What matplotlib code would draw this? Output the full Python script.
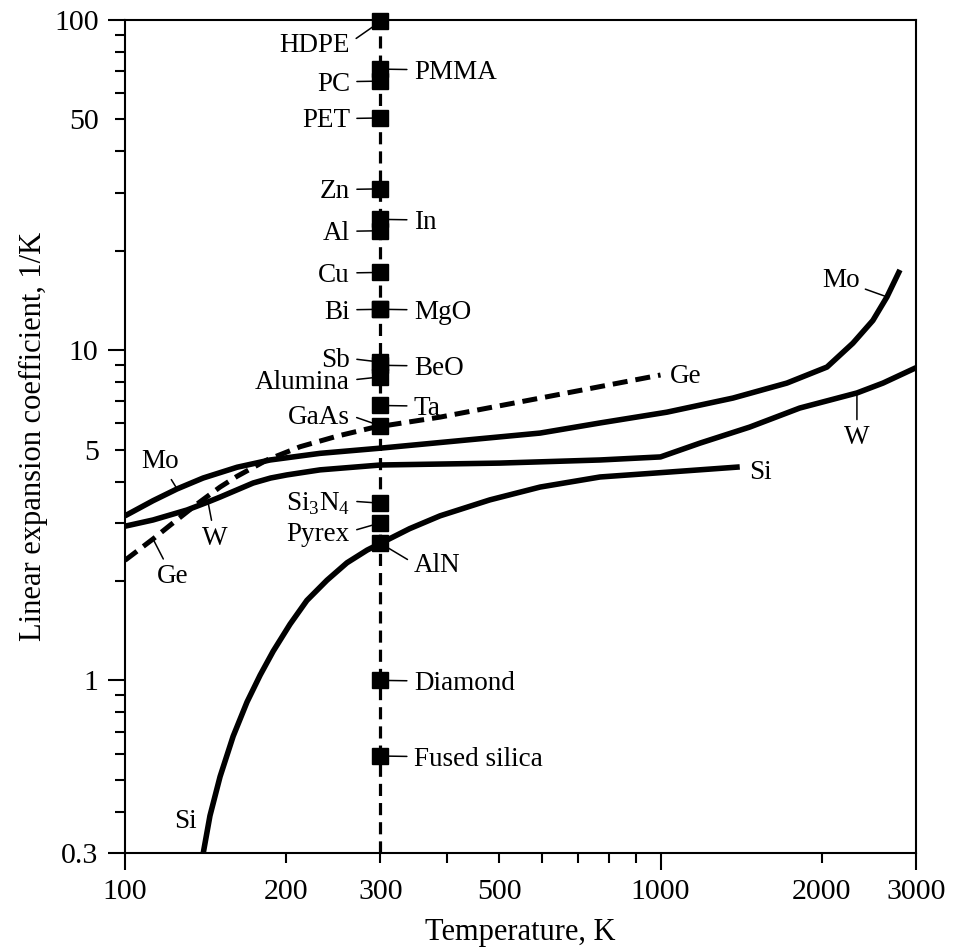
import numpy as np
import matplotlib
matplotlib.use("Agg")
import matplotlib.pyplot as plt
from matplotlib.ticker import FixedLocator, FuncFormatter

plt.rcParams['font.family'] = 'Liberation Serif'
plt.rcParams['mathtext.fontset'] = 'custom'
plt.rcParams['mathtext.rm'] = 'Liberation Serif'

# curves (temperature K, linear expansion coefficient 1e-6/K)
t_mo = [100, 112.8, 125.1, 139.9, 161.9, 186.6, 231.3, 300, 596, 771, 1028, 1365, 1722, 2046, 2287, 2492, 2648, 2800]
a_mo = [3.15, 3.50, 3.80, 4.10, 4.42, 4.65, 4.87, 5.05, 5.61, 6.02, 6.49, 7.16, 7.95, 8.89, 10.5, 12.3, 14.5, 17.5]

t_w = [100, 112.8, 130.5, 142.9, 150.5, 173.5, 187, 200.6, 231.3, 300, 501, 771, 1000, 1185, 1468, 1820, 2327, 2603, 3000]
a_w = [2.93, 3.06, 3.28, 3.47, 3.59, 3.96, 4.10, 4.19, 4.34, 4.49, 4.55, 4.65, 4.75, 5.23, 5.85, 6.68, 7.42, 7.95, 8.85]

t_ge = [100, 112.8, 121.4, 136.3, 150.5, 161.9, 184.1, 212.3, 250, 290.6, 387.6, 596, 1000]
a_ge = [2.31, 2.68, 2.95, 3.42, 3.85, 4.15, 4.65, 5.10, 5.50, 5.83, 6.27, 7.16, 8.41]

t_si = [140, 144.1, 150.5, 159.2, 169.0, 178.8, 189.1, 203.3, 218.6, 238.3, 259.7, 283.2, 300, 340, 387.6, 480, 596, 771, 1028, 1406]
a_si = [0.30, 0.389, 0.511, 0.677, 0.860, 1.037, 1.225, 1.479, 1.746, 2.01, 2.27, 2.48, 2.60, 2.88, 3.15, 3.52, 3.85, 4.13, 4.27, 4.43]

# room temperature values
t_room = 300
si3n4 = r'Si$_\mathregular{3}$N$_\mathregular{4}$'
left_names = ['HDPE', 'PC', 'PET', 'Zn', 'Al', 'Cu', 'Bi', 'Sb', 'Alumina', 'GaAs', si3n4, 'Pyrex']
left_vals = [99, 65.3, 50.5, 30.8, 23.0, 17.2, 13.3, 9.2, 8.3, 5.9, 3.44, 3.0]
right_names = ['PMMA', 'In', 'MgO', 'BeO', 'Ta', 'AlN', 'Diamond', 'Fused silica']
right_vals = [71, 24.9, 13.3, 9.0, 6.8, 2.6, 1.0, 0.59]

# vertical label shifts (points)
dy = {'HDPE': -15, 'GaAs': 8, si3n4: 2, 'Pyrex': -6, 'AlN': -14, 'Sb': 3, 'Alumina': -2}

fig = plt.figure(figsize=(9.55, 9.48), dpi=100)
ax = fig.add_axes([125/955, 95/948, 791/955, 833/948])
ax.set_xscale('log')
ax.set_yscale('log')

lw_curve = 4.0
ax.plot(t_mo, a_mo, color='k', lw=lw_curve, solid_capstyle='butt', solid_joinstyle='round')
ax.plot(t_w, a_w, color='k', lw=lw_curve, solid_capstyle='butt', solid_joinstyle='round')
ax.plot(t_si, a_si, color='k', lw=lw_curve, solid_capstyle='butt', solid_joinstyle='round')
ax.plot(t_ge, a_ge, color='k', lw=3.6, ls=(0, (3.0, 1.6)))
ax.axvline(t_room, color='k', lw=2.3, ls=(0, (3.8, 2.2)), zorder=1)

ax.plot([t_room] * len(left_vals), left_vals, 's', color='k', ms=11, zorder=5, clip_on=False)
ax.plot([t_room] * len(right_vals), right_vals, 's', color='k', ms=11, zorder=5, clip_on=False)

fs = 19.5
for name, v in zip(left_names, left_vals):
    ax.annotate(name, xy=(t_room, v), xytext=(-22, dy.get(name, 0)), textcoords='offset points',
                ha='right', va='center_baseline', fontsize=fs, annotation_clip=False,
                arrowprops=dict(arrowstyle='-', color='k', lw=1.1, shrinkA=3, shrinkB=0, relpos=(1, 0.6)))
for name, v in zip(right_names, right_vals):
    ax.annotate(name, xy=(t_room, v), xytext=(24, dy.get(name, 0)), textcoords='offset points',
                ha='left', va='center_baseline', fontsize=fs, annotation_clip=False,
                arrowprops=dict(arrowstyle='-', color='k', lw=1.1, shrinkA=3, shrinkB=0, relpos=(0, 0.6)))

# curve labels
lead2 = dict(arrowstyle='-', color='k', lw=1.1, shrinkA=2, shrinkB=0)
ax.annotate('Mo', xy=(t_mo[2], a_mo[2]), xytext=(-12, 21.6), textcoords='offset points',
            ha='center', va='center_baseline', fontsize=fs, arrowprops=lead2)
ax.annotate('W', xy=(t_w[3], a_w[3]), xytext=(5, -24), textcoords='offset points',
            ha='center', va='center_baseline', fontsize=fs, arrowprops=lead2)
ax.annotate('Ge', xy=(t_ge[1], a_ge[1]), xytext=(14, -25), textcoords='offset points',
            ha='center', va='center_baseline', fontsize=fs, arrowprops=lead2)
ax.annotate('Mo', xy=(t_mo[16], a_mo[16]), xytext=(-33, 14), textcoords='offset points',
            ha='center', va='center_baseline', fontsize=fs, arrowprops=lead2)
ax.annotate('W', xy=(t_w[16], a_w[16]), xytext=(0, -30), textcoords='offset points',
            ha='center', va='center_baseline', fontsize=fs, arrowprops=lead2)
ax.annotate('Ge', xy=(t_ge[-1], a_ge[-1]), xytext=(7, 1), textcoords='offset points',
            ha='left', va='center_baseline', fontsize=fs)
ax.annotate('Si', xy=(t_si[-1], a_si[-1]), xytext=(7, -2), textcoords='offset points',
            ha='left', va='center_baseline', fontsize=fs)
ax.annotate('Si', xy=(t_si[0], a_si[0]), xytext=(-13, 25), textcoords='offset points',
            ha='center', va='center_baseline', fontsize=fs)

# axes
ax.set_xlim(100, 3000)
ax.set_ylim(0.3, 100)
x_labeled = [100, 200, 300, 500, 1000, 2000, 3000]
y_labeled = [0.3, 1, 5, 10, 50, 100]
ax.xaxis.set_major_locator(FixedLocator([100, 1000, 3000]))
ax.xaxis.set_minor_locator(FixedLocator([200, 300, 400, 500, 600, 700, 800, 900, 2000]))
ax.yaxis.set_major_locator(FixedLocator([0.3, 1, 10, 100]))
ax.yaxis.set_minor_locator(FixedLocator([0.4, 0.5, 0.6, 0.7, 0.8, 0.9, 2, 3, 4, 5, 6, 7, 8, 9,
                                         20, 30, 40, 50, 60, 70, 80, 90]))
fmt_x = FuncFormatter(lambda v, p: f'{v:g}' if any(abs(v - l) < 1e-6 for l in x_labeled) else '')
fmt_y = FuncFormatter(lambda v, p: f'{v:g}' if any(abs(v - l) < 1e-6 for l in y_labeled) else '')
ax.xaxis.set_major_formatter(fmt_x)
ax.xaxis.set_minor_formatter(fmt_x)
ax.yaxis.set_major_formatter(fmt_y)
ax.yaxis.set_minor_formatter(fmt_y)
ax.tick_params(which='major', length=12, width=1.5, pad=7, labelsize=21.5, direction='out')
ax.tick_params(which='minor', length=7, width=1.5, pad=12, labelsize=21.5, direction='out')
for s in ax.spines.values():
    s.set_linewidth(1.5)

ax.set_xlabel('Temperature, K', fontsize=22)
ax.set_ylabel('Linear expansion coefficient, 1/K', fontsize=22)
ax.xaxis.set_label_coords(0.5, -0.078)
ax.yaxis.set_label_coords(-0.097, 0.5)

fig.savefig('out.png', dpi=100)
